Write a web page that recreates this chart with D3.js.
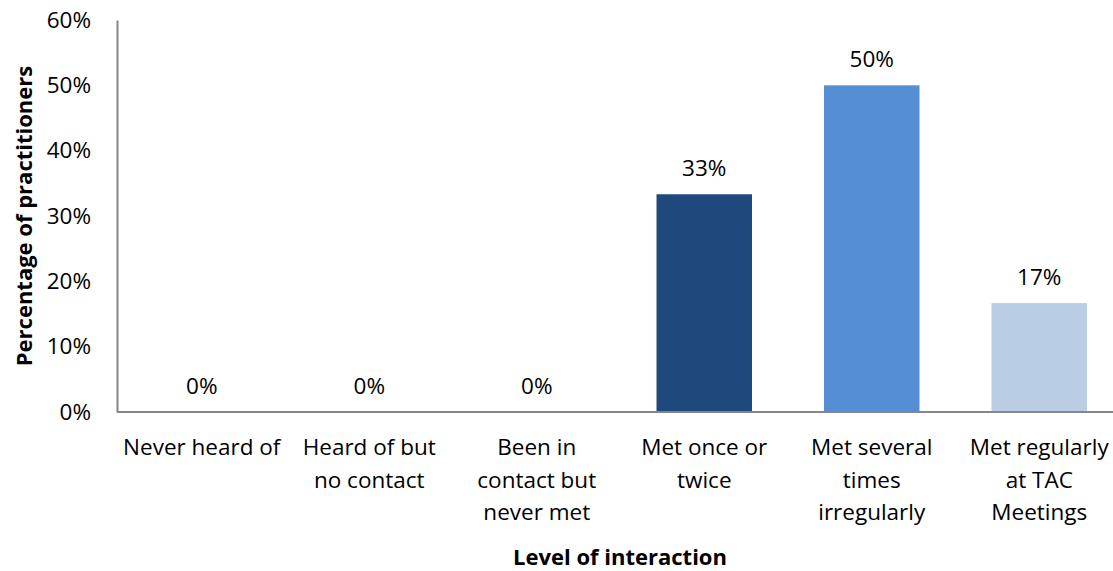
<!DOCTYPE html>
<html><head><meta charset="utf-8">
<script src="https://cdn.jsdelivr.net/npm/d3@7"></script>
<style>body{margin:0;background:#fff}svg{display:block}text{font-family:"Open Sans",sans-serif;fill:#000}</style>
</head><body><svg id="c" width="1113" height="571"></svg>
<script>
const categories = ["Never heard of","Heard of but no contact","Been in contact but never met","Met once or twice","Met several times irregularly","Met regularly at TAC Meetings"];
const categoryLines = [["Never heard of"],["Heard of but","no contact"],["Been in","contact but","never met"],["Met once or","twice"],["Met several","times","irregularly"],["Met regularly","at TAC","Meetings"]];
const values = [0, 0, 0, 33.33, 50, 16.67];
const valueLabels = ["0%","0%","0%","33%","50%","17%"];
const barColors = ["#1F497D","#1F497D","#1F497D","#1F497D","#558ED5","#B9CDE5"];
const yTicks = [0,10,20,30,40,50,60];
const yTitle = "Percentage of practitioners";
const xTitle = "Level of interaction";

const svg = d3.select("#c");
const x = d3.scaleBand().domain(categories).range([118, 1123]).paddingInner(0.43).paddingOuter(0.215);
const y = d3.scaleLinear().domain([0, 60]).range([412, 20]);
const fs = 22.5;

// bars
svg.selectAll("rect.bar").data(categories).enter().append("rect")
  .attr("x", d => x(d)).attr("width", x.bandwidth())
  .attr("y", (d,i) => y(values[i])).attr("height", (d,i) => y(0) - y(values[i]))
  .attr("fill", (d,i) => barColors[i]);

// value labels
svg.selectAll("text.val").data(categories).enter().append("text")
  .attr("x", d => x(d) + x.bandwidth()/2).attr("y", (d,i) => y(values[i]) - 18)
  .attr("text-anchor","middle").style("font-size", fs+"px").text((d,i) => valueLabels[i]);

// y axis
const yAxis = d3.axisLeft(y).tickValues(yTicks).tickSize(0).tickPadding(26).tickFormat(d => d + "%");
const gy = svg.append("g").attr("transform","translate(117,0)").call(yAxis);
gy.select(".domain").attr("stroke","#868686").attr("stroke-width",2);
gy.selectAll("text").style("font-size", fs+"px").style("font-family",'"Open Sans",sans-serif').attr("fill","#000");

// x axis
const xAxis = d3.axisBottom(x).tickSize(0).tickFormat("");
const gx = svg.append("g").attr("transform","translate(0,412)").call(xAxis);
gx.select(".domain").attr("stroke","#868686").attr("stroke-width",2).attr("d","M117,0H1123");

// category labels
const cl = svg.selectAll("text.cat").data(categories).enter().append("text")
  .attr("text-anchor","middle").style("font-size", fs+"px");
cl.each(function(d,i){
  const t = d3.select(this);
  categoryLines[i].forEach((ln,j) => {
    t.append("tspan").attr("x", x(d) + x.bandwidth()/2).attr("y", 455 + j*32.5).text(ln);
  });
});

// titles
svg.append("text").attr("transform","translate(32,216) rotate(-90)").attr("text-anchor","middle")
  .style("font-size","22px").style("font-weight","bold").text(yTitle);
svg.append("text").attr("x",620).attr("y",565).attr("text-anchor","middle")
  .style("font-size","22px").style("font-weight","bold").text(xTitle);
</script></body></html>
